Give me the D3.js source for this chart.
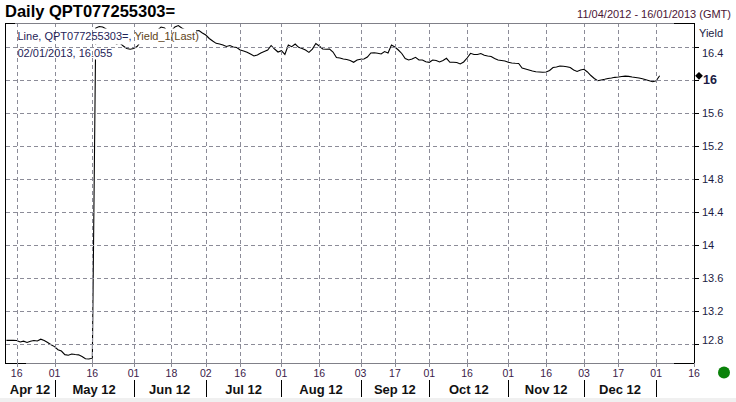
<!DOCTYPE html>
<html><head><meta charset="utf-8">
<script src="https://cdn.jsdelivr.net/npm/d3@7"></script>
<style>
html,body{margin:0;padding:0;background:#fff;}
svg{display:block;font-family:Arial,"Liberation Sans",sans-serif;}
</style></head>
<body><svg id="c" width="736" height="402"></svg>
<script>
// ---- data ----
const title = "Daily QPT077255303=";
const rangeText = "11/04/2012 - 16/01/2013 (GMT)";
const legendLine1a = "Line, QPT077255303=, ";
const legendLine1b = "Yield_1(Last)";
const legendLine2 = "02/01/2013, 16.055";
const startDate = "2012-04-11";
const endDate = "2013-01-16";
// one yield value per weekday starting 2012-04-11
const yieldValues = [
  12.848,12.848,12.848,12.846,12.828,12.838,12.822,12.838,12.846,12.840,
  12.862,12.845,12.822,12.795,12.772,12.735,12.718,12.675,12.668,12.682,
  12.676,12.672,12.652,12.625,12.622,12.632,16.634,16.652,16.646,16.622,
  16.549,16.488,16.440,16.452,16.416,16.385,16.376,16.385,16.410,16.464,
  16.488,16.525,16.513,16.573,16.610,16.646,16.634,16.585,16.598,16.646,
  16.664,16.634,16.610,16.598,16.592,16.598,16.604,16.573,16.549,16.507,
  16.476,16.448,16.440,16.428,16.410,16.422,16.404,16.398,16.367,16.355,
  16.339,16.319,16.295,16.307,16.331,16.349,16.367,16.422,16.379,16.343,
  16.359,16.313,16.428,16.407,16.440,16.400,16.385,16.367,16.339,16.379,
  16.446,16.416,16.379,16.376,16.379,16.343,16.276,16.270,16.258,16.252,
  16.240,16.218,16.246,16.255,16.258,16.282,16.331,16.333,16.327,16.319,
  16.349,16.331,16.428,16.404,16.367,16.325,16.264,16.246,16.258,16.279,
  16.246,16.246,16.225,16.218,16.246,16.240,16.222,16.240,16.267,16.218,
  16.218,16.215,16.198,16.222,16.270,16.327,16.313,16.313,16.325,16.303,
  16.295,16.288,16.264,16.246,16.240,16.234,16.219,16.210,16.206,16.204,
  16.149,16.137,16.125,16.113,16.104,16.101,16.097,16.101,16.119,16.155,
  16.161,16.173,16.170,16.165,16.155,16.125,16.107,16.125,16.133,16.101,
  16.058,16.022,15.995,16.004,16.012,16.022,16.028,16.036,16.040,16.046,
  16.050,16.048,16.040,16.034,16.028,16.018,16.007,15.995,15.983,15.995,
  16.055
];
const lastValue = 16.055;
const yTicks = [12.8,13.2,13.6,14.0,14.4,14.8,15.2,15.6,16.0,16.4];
const yTickLabels = ["12.8","13.2","13.6","14","14.4","14.8","15.2","15.6","16","16.4"];
const xTickDates = ["2012-04-16","2012-05-01","2012-05-16","2012-06-01","2012-06-18","2012-07-02","2012-07-16","2012-08-01","2012-08-16","2012-09-03","2012-09-17","2012-10-01","2012-10-16","2012-11-01","2012-11-16","2012-12-03","2012-12-17","2013-01-01","2013-01-16"];
const monthStarts = ["2012-05-01","2012-06-01","2012-07-02","2012-08-01","2012-09-03","2012-10-01","2012-11-01","2012-12-03","2013-01-01"];
const monthLabels = ["Apr 12","May 12","Jun 12","Jul 12","Aug 12","Sep 12","Oct 12","Nov 12","Dec 12"];

// ---- layout ----
const L = 5.5, R = 694, T = 23, B = 363;
const svg = d3.select("#c");
const parse = d3.timeParse("%Y-%m-%d"), fmt = d3.timeFormat("%Y-%m-%d"), dayFmt = d3.timeFormat("%d");
const weekdays = d3.timeDay.range(parse(startDate), d3.timeDay.offset(parse(endDate),1))
  .filter(d => d.getDay() !== 0 && d.getDay() !== 6).map(fmt);

const x = d3.scalePoint().domain(weekdays).range([6.4, R]);
const y = d3.scaleLinear().domain([12.8, 16.4]).range([344.3, 47.3]);

svg.append("rect").attr("x",0).attr("y",398).attr("width",736).attr("height",4).attr("fill","#f0f0f0");

// data line
const pts = yieldValues.map((v,i)=>[weekdays[i], v]);
svg.append("path").datum(pts)
  .attr("d", d3.line().x(d=>x(d[0])).y(d=>y(d[1])))
  .attr("fill","none").attr("stroke","#000").attr("stroke-width",1.1);

// legend masks
svg.append("rect").attr("x",15).attr("y",28.5).attr("width",181).attr("height",16).attr("fill","#fff");
svg.append("rect").attr("x",15).attr("y",44.5).attr("width",97).attr("height",15).attr("fill","#fff");

// grid
const gridCol = "#8c8c98";
svg.append("g").attr("shape-rendering","crispEdges").selectAll("line").data(yTicks).join("line")
  .attr("x1",L).attr("x2",R).attr("y1",d=>Math.round(y(d))+0.5).attr("y2",d=>Math.round(y(d))+0.5)
  .attr("stroke",gridCol).attr("stroke-dasharray","4,3");
svg.append("g").attr("shape-rendering","crispEdges").selectAll("line").data(xTickDates.slice(0,-1)).join("line")
  .attr("x1",d=>Math.round(x(d))+0.5).attr("x2",d=>Math.round(x(d))+0.5).attr("y1",T).attr("y2",B)
  .attr("stroke",gridCol).attr("stroke-dasharray","4,3");

// frame
svg.append("line").attr("x1",L).attr("x2",R).attr("y1",T+0.5).attr("y2",T+0.5).attr("stroke","#808088");
svg.append("line").attr("x1",L).attr("x2",R).attr("y1",B+0.5).attr("y2",B+0.5).attr("stroke","#808088");
const blk = [[L,T+0.5,15,T+0.5],[674,T+0.5,R,T+0.5],[L,B+0.5,26,B+0.5],[674,B+0.5,R,B+0.5],[L,T,L,B+1],[R+0.5,T,R+0.5,B+1]];
svg.append("g").selectAll("line").data(blk).join("line")
  .attr("x1",d=>d[0]).attr("y1",d=>d[1]).attr("x2",d=>d[2]).attr("y2",d=>d[3]).attr("stroke","#000");

// x ticks
svg.append("g").selectAll("line").data(xTickDates).join("line")
  .attr("x1",d=>Math.round(x(d))+0.5).attr("x2",d=>Math.round(x(d))+0.5).attr("y1",B).attr("y2",B+4)
  .attr("stroke",gridCol);
svg.append("g").selectAll("text").data(xTickDates).join("text")
  .attr("x",d=>x(d)).attr("y",377).attr("text-anchor","middle")
  .attr("font-size",10.5).attr("fill","#3a1a48").text(d=>dayFmt(parse(d)));
// month separators and labels
svg.append("g").selectAll("line").data(monthStarts).join("line")
  .attr("x1",d=>Math.round(x(d))+0.5).attr("x2",d=>Math.round(x(d))+0.5).attr("y1",380).attr("y2",397)
  .attr("stroke","#000");
const bounds = [L].concat(monthStarts.map(d=>x(d)));
svg.append("g").selectAll("text").data(monthLabels).join("text")
  .attr("x",(d,i)=>(bounds[i]+bounds[i+1])/2).attr("y",394).attr("text-anchor","middle")
  .attr("font-size",13).attr("font-weight","bold").attr("fill","#111").text(d=>d);

// y axis
svg.append("g").selectAll("line").data(yTicks).join("line")
  .attr("x1",R).attr("x2",R+5).attr("y1",d=>Math.round(y(d))+0.5).attr("y2",d=>Math.round(y(d))+0.5)
  .attr("stroke","#000");
svg.append("g").selectAll("text").data(yTicks).join("text")
  .attr("x",d=>d===16 ? 703 : 702)
  .attr("y",(d,i)=> d===16.4 ? y(d)+9.5 : d===12.8 ? y(d)-0.5 : y(d)+4)
  .attr("font-size",d=>d===16 ? 12.5 : 11)
  .attr("font-weight",d=>d===16 ? "bold" : "normal")
  .attr("fill","#1c1c44").text((d,i)=>yTickLabels[i]);
svg.append("text").attr("x",699).attr("y",36.5).attr("font-size",11).attr("fill","#1c1c44").text("Yield");
// last value marker
svg.append("path").attr("d",d3.symbol(d3.symbolSquare, 30)())
  .attr("transform",`translate(699,${y(lastValue)}) rotate(45)`).attr("fill","#000");

// titles
svg.append("text").attr("x",5).attr("y",17).attr("font-size",16.5).attr("font-weight","bold").attr("fill","#000").text(title);
svg.append("text").attr("x",731).attr("y",18).attr("text-anchor","end").attr("font-size",11).attr("fill","#4b1535").text(rangeText);

// legend
const lt = svg.append("text").attr("x",17.5).attr("y",40).attr("font-size",11);
lt.append("tspan").attr("fill","#1f2458").text(legendLine1a);
lt.append("tspan").attr("fill","#5e4418").text(legendLine1b);
svg.append("text").attr("x",17.5).attr("y",56.5).attr("font-size",11).attr("fill","#1f2458").text(legendLine2);

// status dot
svg.append("circle").attr("cx",724).attr("cy",372.5).attr("r",6).attr("fill","#0a820a");
</script></body></html>
